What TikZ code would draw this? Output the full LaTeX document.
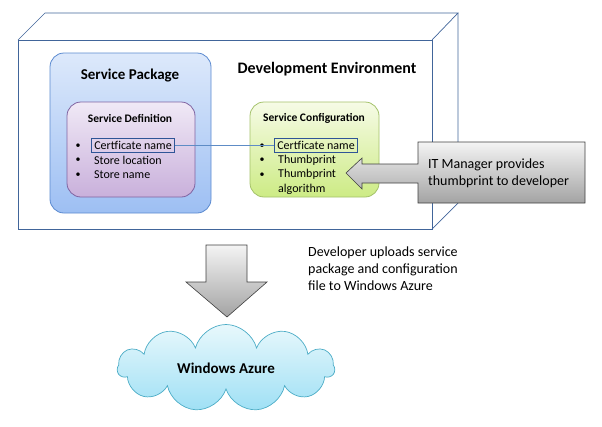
\documentclass[tikz,border=0pt]{standalone}
\usepackage{fontspec}
\setmainfont{Carlito}
\usetikzlibrary{shapes.symbols}

\definecolor{envline}{HTML}{41659A}
\definecolor{pkgtop}{HTML}{DDE9FB}
\definecolor{pkgbot}{HTML}{9DBFF3}
\definecolor{pkgline}{HTML}{5B8AD0}
\definecolor{deftop}{HTML}{F0E9F6}
\definecolor{defbot}{HTML}{C9B0DB}
\definecolor{defline}{HTML}{8064A2}
\definecolor{cfgtop}{HTML}{F6FBE6}
\definecolor{cfgbot}{HTML}{CDEB85}
\definecolor{cfgline}{HTML}{A4C26A}
\definecolor{certline}{HTML}{2F5597}
\definecolor{linkline}{HTML}{5E8CC6}
\definecolor{arrtop}{HTML}{F4F4F4}
\definecolor{arrbot}{HTML}{A3A3A3}
\definecolor{arrline}{HTML}{404040}
\definecolor{cloudtop}{HTML}{E8F8FC}
\definecolor{cloudbot}{HTML}{9FE0F5}
\definecolor{cloudline}{HTML}{4BACC6}

\begin{document}
\begin{tikzpicture}[x=1pt,y=-1pt]
        \tikzstyle{env_style} = [draw=envline,line width=0.7pt]
        \tikzstyle{box_style} = [rounded corners=14pt,line width=0.8pt,inner sep=0pt]
        \tikzstyle{big_title} = [font=\bfseries\fontsize{15}{18}\selectfont]
        \tikzstyle{small_title} = [font=\bfseries\fontsize{11.5}{14}\selectfont]
        \tikzstyle{item_style} = [anchor=west,inner sep=0pt,font=\fontsize{12}{14.5}\selectfont]
        \tikzstyle{dot_style} = [inner sep=0pt,font=\fontsize{10}{12}\selectfont]
        \tikzstyle{cert_style} = [anchor=west,draw=certline,line width=0.7pt,inner xsep=3pt,inner ysep=2.5pt,font=\fontsize{12}{14.5}\selectfont]
        \tikzstyle{note_style} = [anchor=west,align=left,inner sep=0pt,font=\fontsize{14}{17}\selectfont]
        \tikzstyle{arrow_style} = [draw=arrline,line width=0.6pt,top color=arrtop,bottom color=arrbot]
        \useasboundingbox (0,0) rectangle (602,426);
        % development environment box
        \draw[env_style] (18,40) -- (45,13) -- (458,13) -- (432,40);
        \draw[env_style] (458,13) -- (458,203) -- (432,229);
        \node[env_style,minimum width=414,minimum height=189,inner sep=0pt] (env) at (225,134.5) {};
        \node[big_title,font=\bfseries\fontsize{16}{19}\selectfont] (env_title) at (327,69) {Development Environment};
        % service package
        \node[box_style,draw=pkgline,top color=pkgtop,bottom color=pkgbot,minimum width=161,minimum height=160] (pkg) at (130.5,133) {};
        \node[big_title] (pkg_title) at (130,76) {Service Package};
        \node[box_style,draw=defline,top color=deftop,bottom color=defbot,minimum width=128,minimum height=95] (def) at (131,149.5) {};
        \node[small_title] (def_title) at (130,118) {Service Definition};
        \node[dot_style] (d1) at (78,146) {\textbullet};
        \node[dot_style] (d2) at (78,160.5) {\textbullet};
        \node[dot_style] (d3) at (78,175) {\textbullet};
        \node[cert_style] (def_cert) at (91,145.5) {Certficate name};
        \node[item_style] (def_loc) at (94,160.5) {Store location};
        \node[item_style] (def_store) at (94,175) {Store name};
        % service configuration
        \node[box_style,draw=cfgline,top color=cfgtop,bottom color=cfgbot,minimum width=129,minimum height=95] (cfg) at (314.5,149.5) {};
        \node[small_title] (cfg_title) at (314,118) {Service Configuration};
        \node[dot_style] (c1) at (262,146) {\textbullet};
        \node[dot_style] (c2) at (262,160.5) {\textbullet};
        \node[dot_style] (c3) at (262,175) {\textbullet};
        \node[cert_style] (cfg_cert) at (274,145.5) {Certficate name};
        \node[item_style] (cfg_thumb) at (278,160.5) {Thumbprint};
        \node[item_style,align=left] (cfg_algo) at (278,182) {Thumbprint\\algorithm};
        \draw[draw=linkline,line width=0.6pt] (def_cert) -- (cfg_cert);
        % it manager callout
        \draw[arrow_style] (585,142) -- (418,142) -- (418,164) -- (362,164) -- (362,158) -- (346,173)
            -- (362,189) -- (362,183) -- (418,183) -- (418,203) -- (585,203) -- cycle;
        \node[note_style] (it_note) at (428,173.5) {IT Manager provides\\thumbprint to developer};
        % upload arrow
        \draw[arrow_style] (206,245) -- (247,245) -- (247,282) -- (267,282) -- (227,317) -- (186,282) -- (206,282) -- cycle;
        \node[note_style] (upload_note) at (308,269) {Developer uploads service\\package and configuration\\file to Windows Azure};
        % windows azure
        \node[cloud,cloud puffs=11,aspect=2.5,draw=cloudline,line width=0.7pt,top color=cloudtop,bottom color=cloudbot,
            minimum width=217,minimum height=87,inner sep=0pt,big_title] (azure) at (226,368) {Windows Azure};
\end{tikzpicture}
\end{document}
